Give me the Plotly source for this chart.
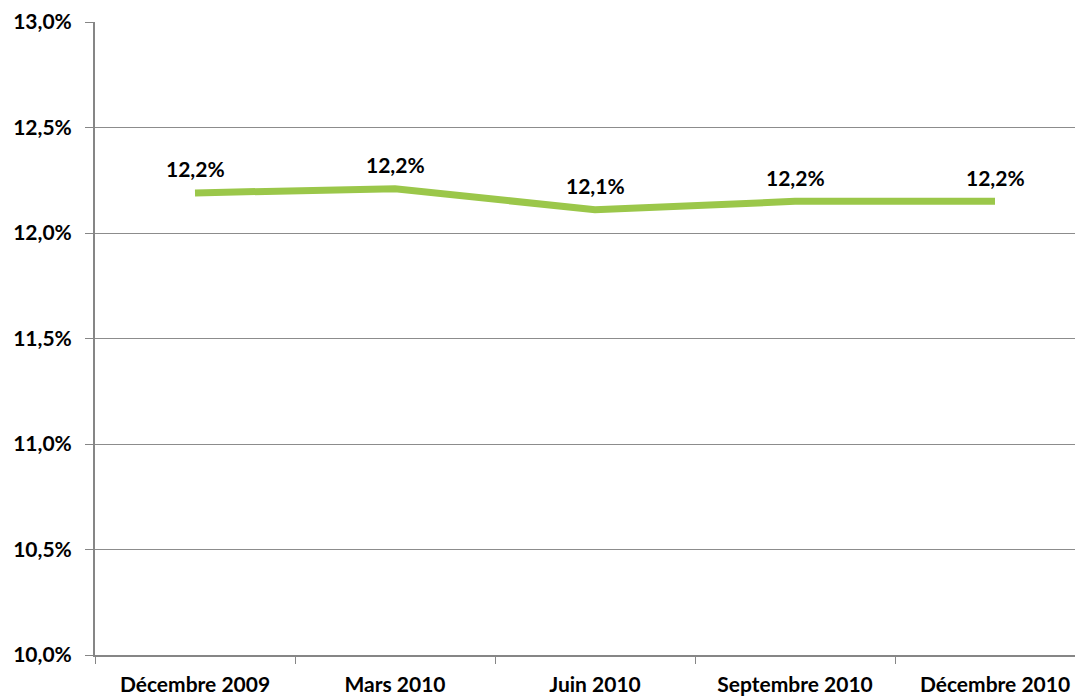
import plotly.graph_objects as go

categories = ["Décembre 2009", "Mars 2010", "Juin 2010", "Septembre 2010", "Décembre 2010"]
values = [12.19, 12.21, 12.11, 12.15, 12.15]
labels = ["12,2%", "12,2%", "12,1%", "12,2%", "12,2%"]
y_ticks = [10.0, 10.5, 11.0, 11.5, 12.0, 12.5, 13.0]
y_tick_labels = ["10,0%", "10,5%", "11,0%", "11,5%", "12,0%", "12,5%", "13,0%"]

FONT = "Lato, Calibri, Arial, sans-serif"
W, H = 1083, 697
ML, MR, MT, MB = 87, 0, 14, 50
cat_px = 200
x_end = -0.5 + (W - ML - MR) / cat_px

fig = go.Figure()
fig.add_trace(go.Scatter(
    x=categories, y=values, mode="lines",
    line=dict(color="#9BC74A", width=7, shape="linear"),
    hoverinfo="skip", showlegend=False,
))

for c, v, t in zip(categories, values, labels):
    fig.add_annotation(x=c, y=v, text=f"<b>{t}</b>", showarrow=False,
                       yshift=24, font=dict(family=FONT, size=21, color="#000000"))

fig.update_layout(
    width=W, height=H,
    margin=dict(l=ML, r=MR, t=MT, b=MB),
    paper_bgcolor="white", plot_bgcolor="white",
    font=dict(family=FONT, size=21, color="#000000"),
    xaxis=dict(
        type="category", range=[-0.5, x_end],
        showgrid=False, showline=True, linecolor="#868686", linewidth=2,
        ticks="outside", tickson="boundaries", ticklen=7, tickcolor="#868686", tickwidth=1,
        tickfont=dict(family=FONT, size=21, color="#000000"),
        tickprefix="<b>", ticksuffix="</b>",
        ticklabelstandoff=10,
    ),
    yaxis=dict(
        range=[10.0, 13.0], tickvals=y_ticks,
        ticktext=[f"<b>{t}</b>" for t in y_tick_labels],
        showgrid=True, gridcolor="#8C8C8C", gridwidth=1,
        showline=True, linecolor="#868686", linewidth=2,
        ticks="outside", ticklen=8, tickcolor="#868686", tickwidth=1,
        tickfont=dict(family=FONT, size=21, color="#000000"),
        ticklabelstandoff=9,
        zeroline=False,
    ),
)

fig.write_html("out.html")
